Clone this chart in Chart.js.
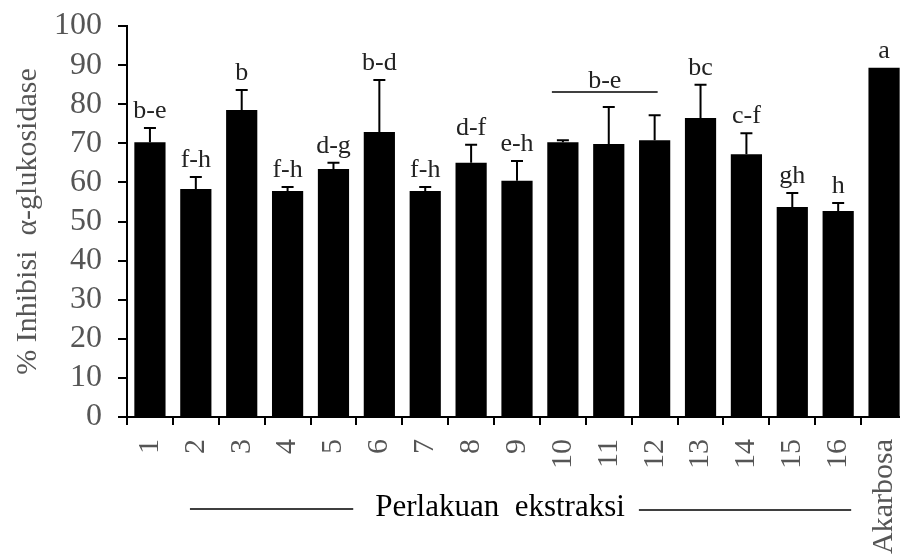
<!DOCTYPE html>
<html>
<head>
<meta charset="utf-8">
<script src="https://cdn.jsdelivr.net/npm/chart.js@4.4.1/dist/chart.umd.min.js"></script>
<style>
  html, body { margin: 0; padding: 0; background: #fff; overflow: hidden; }
  #wrap { width: 910px; height: 558px; }
</style>
</head>
<body>
<div id="wrap"><canvas id="inhibisiChart" width="910" height="558"></canvas></div>
<script>
// data perlakuan
const perlakuan = ['1', '2', '3', '4', '5', '6', '7', '8', '9', '10', '11', '12', '13', '14', '15', '16', 'Akarbosa'];
const inhibisi = [70.3, 58.3, 78.5, 57.8, 63.4, 72.9, 57.8, 65.0, 60.4, 70.3, 69.8, 70.8, 76.5, 67.2, 53.7, 52.7, 89.3];
const galat = [3.6, 3.1, 5.1, 1.0, 1.6, 13.3, 1.0, 4.6, 5.1, 0.5, 9.5, 6.4, 8.5, 5.4, 3.6, 2.0, 0];
const notasi = ['b-e', 'f-h', 'b', 'f-h', 'd-g', 'b-d', 'f-h', 'd-f', 'e-h', '', '', '', 'bc', 'c-f', 'gh', 'h', 'a'];
const yTicks = [0, 10, 20, 30, 40, 50, 60, 70, 80, 90, 100];
// notasi gabungan untuk perlakuan 10-12
const notasiGrup = { teks: 'b-e', dari: 9, sampai: 11 };
const judulX = 'Perlakuan  ekstraksi';
const judulY = '% Inhibisi  α-glukosidase';

const serif = '"Liberation Serif", "Times New Roman", serif';

// error bar (atas saja) + huruf notasi
const errorBarPlugin = {
    id: 'errorBars',
    afterDatasetsDraw(chart) {
        const ctx = chart.ctx;
        const meta = chart.getDatasetMeta(0);
        const y = chart.scales.y;
        ctx.save();
        ctx.strokeStyle = '#000';
        ctx.lineWidth = 2;
        ctx.fillStyle = '#222';
        ctx.font = '26px ' + serif;
        ctx.textAlign = 'center';
        ctx.textBaseline = 'alphabetic';
        meta.data.forEach((bar, i) => {
            const top = y.getPixelForValue(inhibisi[i] + galat[i]);
            if (galat[i] > 0) {
                ctx.beginPath();
                ctx.moveTo(bar.x, bar.y);
                ctx.lineTo(bar.x, top);
                ctx.moveTo(bar.x - 6, top);
                ctx.lineTo(bar.x + 6, top);
                ctx.stroke();
            }
            if (notasi[i]) ctx.fillText(notasi[i], bar.x, top - 10);
        });
        // garis notasi grup
        const b1 = meta.data[notasiGrup.dari], b2 = meta.data[notasiGrup.sampai];
        let minTop = Infinity;
        for (let i = notasiGrup.dari; i <= notasiGrup.sampai; i++) {
            minTop = Math.min(minTop, y.getPixelForValue(inhibisi[i] + galat[i]));
        }
        const gy = minTop - 15;
        ctx.lineWidth = 1.5;
        ctx.beginPath();
        ctx.moveTo(b1.x - 11, gy);
        ctx.lineTo(b2.x + 3, gy);
        ctx.stroke();
        ctx.fillText(notasiGrup.teks, (b1.x - 11 + b2.x + 3) / 2, gy - 4);
        ctx.restore();
    }
};

// judul sumbu x dengan garis di kiri-kanan
const judulXPlugin = {
    id: 'judulX',
    afterDraw(chart) {
        const ctx = chart.ctx;
        const x = chart.scales.x;
        const kiri = x.getPixelForValue(0) - x.width / perlakuan.length / 2;
        const kanan = x.getPixelForValue(15) + x.width / perlakuan.length / 2;
        const tengah = (kiri + kanan) / 2 + 6;
        const yy = x.bottom - 50;
        ctx.save();
        ctx.font = '31px ' + serif;
        ctx.fillStyle = '#000';
        ctx.textAlign = 'center';
        ctx.textBaseline = 'middle';
        ctx.fillText(judulX, tengah, yy);
        const w = ctx.measureText(judulX).width;
        ctx.strokeStyle = '#000';
        ctx.lineWidth = 1.5;
        ctx.beginPath();
        ctx.moveTo(x.getPixelForValue(0) + 40, yy + 1);
        ctx.lineTo(tengah - w / 2 - 22, yy + 1);
        ctx.moveTo(tengah + w / 2 + 14, yy + 2);
        ctx.lineTo(x.getPixelForValue(15) + 13, yy + 2);
        ctx.stroke();
        ctx.restore();
    }
};

const ctx = document.getElementById('inhibisiChart').getContext('2d');

new Chart(ctx, {
    type: 'bar',
    data: {
        labels: perlakuan,
        datasets: [{
            data: inhibisi,
            backgroundColor: '#000',
            borderWidth: 0,
            barPercentage: 0.68,
            categoryPercentage: 1.0
        }]
    },
    options: {
        responsive: false,
        animation: false,
        layout: { padding: { top: 26, right: 3, left: 0, bottom: 0 } },
        plugins: {
            legend: { display: false },
            tooltip: { enabled: false }
        },
        scales: {
            x: {
                border: { color: '#000', width: 2 },
                grid: {
                    offset: true,
                    drawOnChartArea: false,
                    color: '#000',
                    lineWidth: 2,
                    tickLength: 8
                },
                ticks: {
                    color: '#555',
                    font: { family: serif, size: 30 },
                    minRotation: 90,
                    maxRotation: 90,
                    padding: 14,
                    autoSkip: false
                },
                afterFit: (scale) => {
                    scale.height = 141;
                    scale.paddingLeft = 0;
                    scale.paddingRight = 0;
                }
            },
            y: {
                min: 0,
                max: 100,
                border: { color: '#000', width: 2 },
                grid: {
                    drawOnChartArea: false,
                    color: '#000',
                    lineWidth: 2,
                    tickLength: 9
                },
                afterBuildTicks: (scale) => { scale.ticks = yTicks.map(v => ({ value: v })); },
                ticks: {
                    color: '#555',
                    font: { family: serif, size: 32 },
                    padding: 16,
                    autoSkip: false
                },
                title: {
                    display: true,
                    text: judulY,
                    color: '#555',
                    font: { family: serif, size: 30 },
                    padding: { top: 10, bottom: 0 }
                },
                afterFit: (scale) => {
                    scale.width = 127;
                    scale.paddingTop = 0;
                    scale.paddingBottom = 0;
                }
            }
        }
    },
    plugins: [errorBarPlugin, judulXPlugin]
});
</script>
</body>
</html>
